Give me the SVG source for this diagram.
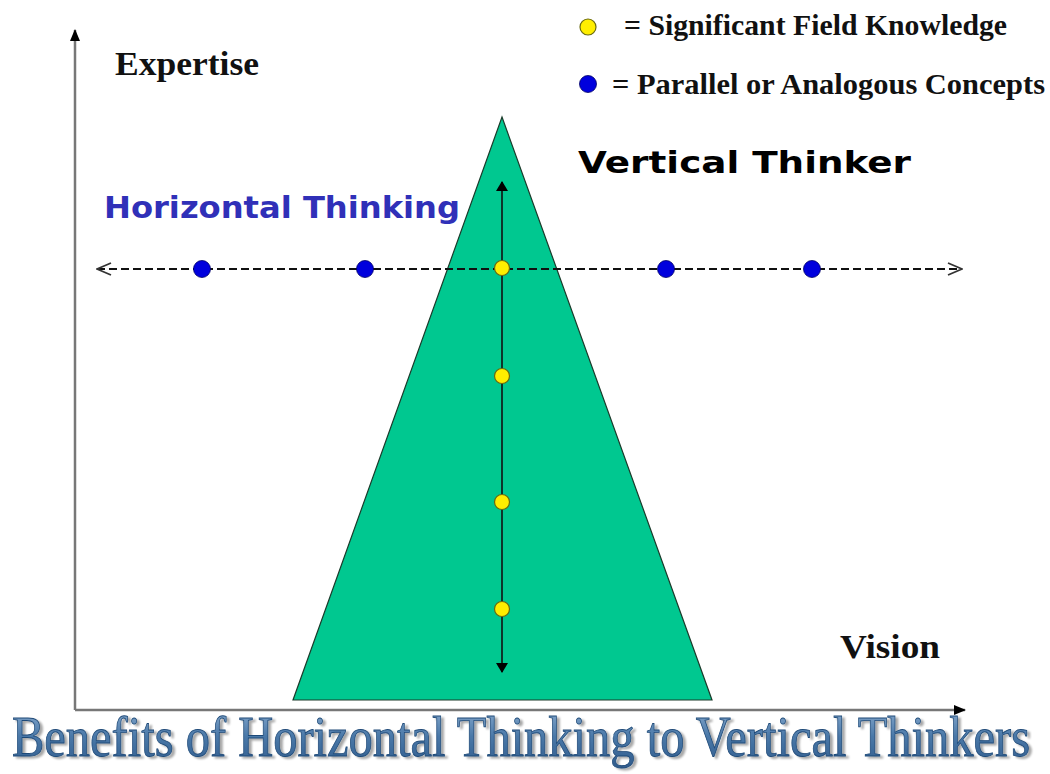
<svg xmlns="http://www.w3.org/2000/svg" width="1050" height="774" viewBox="0 0 1050 774">
<defs>
<marker id="solidHead" viewBox="0 0 10 12" refX="9" refY="6" markerWidth="10" markerHeight="12" markerUnits="userSpaceOnUse" orient="auto">
<path d="M0,0 L10,6 L0,12 Z" fill="#000"/>
</marker>
<marker id="axisHead" viewBox="0 0 12 12" refX="11" refY="6" markerWidth="12" markerHeight="12" markerUnits="userSpaceOnUse" orient="auto">
<path d="M0,1 L12,6 L0,11 Z" fill="#000"/>
</marker>
<marker id="openHead" viewBox="0 0 16 16" refX="15" refY="8" markerWidth="16" markerHeight="16" markerUnits="userSpaceOnUse" orient="auto-start-reverse">
<path d="M1,2 L15,8 L1,14" fill="none" stroke="#333" stroke-width="1.8"/>
</marker>
<filter id="shadow" x="-2%" y="-10%" width="104%" height="125%">
<feGaussianBlur in="SourceAlpha" stdDeviation="1.1"/>
<feOffset dx="3" dy="1.8" result="b"/>
<feComponentTransfer><feFuncA type="linear" slope="0.35"/></feComponentTransfer>
<feMerge><feMergeNode/><feMergeNode in="SourceGraphic"/></feMerge>
</filter>
<linearGradient id="titleGrad" x1="0" y1="0" x2="0" y2="1">
<stop offset="0" stop-color="#8fb0d2"/>
<stop offset="0.5" stop-color="#4a78a8"/>
<stop offset="1" stop-color="#2f5b8c"/>
</linearGradient>
</defs>
<style>
.serifB{font-family:"Liberation Serif","Times New Roman",serif;font-weight:bold;fill:#111;}
.sansB{font-family:"DejaVu Sans",Verdana,sans-serif;font-weight:bold;}
.yellow{fill:#ffee00;stroke:#6a6a10;stroke-width:1.2;}
.blue{fill:#0000dd;stroke:#000066;stroke-width:0.8;}
.axis{stroke:#777;stroke-width:2.5;fill:none;}
</style>
<rect width="1050" height="774" fill="#fff"/>

<g id="axes">
<line class="axis" x1="75" y1="710" x2="75" y2="30" marker-end="url(#axisHead)"/>
<line class="axis" x1="75" y1="710" x2="965" y2="710" marker-end="url(#axisHead)"/>
</g>

<g id="triangle">
<polygon points="502,117 712,700 293,700" fill="#00c890" stroke="#1a3a2a" stroke-width="1.2"/>
</g>

<g id="connectors">
<line x1="502" y1="672" x2="502" y2="182" stroke="#111" stroke-width="1.6" marker-end="url(#solidHead)"/>
<line x1="502" y1="182" x2="502" y2="672" stroke="none" marker-end="url(#solidHead)"/>
<line x1="97" y1="269" x2="962" y2="269" stroke="#111" stroke-width="2" stroke-dasharray="8,4" marker-start="url(#openHead)" marker-end="url(#openHead)"/>
</g>

<g id="knowledge-dots">
<circle class="yellow" cx="502" cy="268" r="7.5"/>
<circle class="yellow" cx="502" cy="376" r="7.5"/>
<circle class="yellow" cx="502" cy="502" r="7.5"/>
<circle class="yellow" cx="502" cy="609" r="7.5"/>
</g>

<g id="concept-dots">
<circle class="blue" cx="202" cy="269" r="8.5"/>
<circle class="blue" cx="365" cy="269" r="8.5"/>
<circle class="blue" cx="666" cy="269" r="8.5"/>
<circle class="blue" cx="812" cy="269" r="8.5"/>
</g>

<g id="legend">
<circle class="yellow" cx="588" cy="27" r="8"/>
<text class="serifB" x="624" y="35" font-size="29" textLength="383" lengthAdjust="spacingAndGlyphs">= Significant Field Knowledge</text>
<circle class="blue" cx="588" cy="84" r="8.5"/>
<text class="serifB" x="612" y="94" font-size="29" textLength="433" lengthAdjust="spacingAndGlyphs">= Parallel or Analogous Concepts</text>
</g>

<g id="labels">
<text class="serifB" x="115" y="75" font-size="34" textLength="144" lengthAdjust="spacingAndGlyphs">Expertise</text>
<text class="serifB" x="840" y="658" font-size="34" textLength="100" lengthAdjust="spacingAndGlyphs">Vision</text>
<text class="sansB" x="578" y="173" font-size="31" fill="#000" textLength="333" lengthAdjust="spacingAndGlyphs">Vertical Thinker</text>
<text class="sansB" x="104" y="218" font-size="30" fill="#3030b8" textLength="356" lengthAdjust="spacingAndGlyphs">Horizontal Thinking</text>
</g>

<g id="title" transform="translate(12,756) scale(1,1.2)">
<text x="0" y="0" font-family="'Liberation Serif','Times New Roman',serif" font-size="48" fill="url(#titleGrad)" stroke="#1f4a78" stroke-width="0.7" filter="url(#shadow)" textLength="1018" lengthAdjust="spacingAndGlyphs">Benefits of Horizontal Thinking to Vertical Thinkers</text>
</g>
</svg>
